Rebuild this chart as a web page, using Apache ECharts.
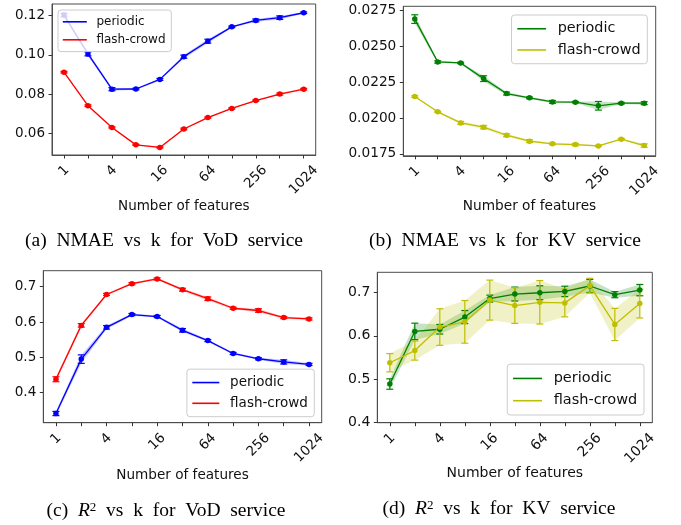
<!DOCTYPE html>
<html><head><meta charset="utf-8">
<script src="https://cdn.jsdelivr.net/npm/echarts@6/dist/echarts.min.js"></script>
<style>html,body{margin:0;padding:0;background:#fff}#c{width:681px;height:525px}</style>
</head><body><div id="c"></div>
<script>
// ---------------- data ----------------
const features = [1, 2, 4, 8, 16, 32, 64, 128, 256, 512, 1024];
const xTickLabels = [1, 4, 16, 64, 256, 1024];
const seriesNames = ['periodic', 'flash-crowd'];

// (a) NMAE vs k for VoD service
const vodNmaePeriodic    = [0.1203, 0.1005, 0.0825, 0.0826, 0.0875, 0.0991, 0.1070, 0.1143, 0.1176, 0.1190, 0.1215];
const vodNmaePeriodicErr = [0.0009, 0.0010, 0.0008, 0.0004, 0.0005, 0.0008, 0.0010, 0.0004, 0.0007, 0.0009, 0.0004];
const vodNmaeFlash       = [0.0912, 0.0741, 0.0630, 0.0541, 0.0528, 0.0622, 0.0680, 0.0727, 0.0767, 0.0800, 0.0825];
const vodNmaeFlashErr    = [0.0004, 0.0004, 0.0003, 0.0003, 0.0003, 0.0004, 0.0003, 0.0003, 0.0003, 0.0005, 0.0004];
const vodNmaeTicks       = [0.06, 0.08, 0.10, 0.12];

// (b) NMAE vs k for KV service
const kvNmaePeriodic    = [0.02688, 0.02390, 0.02383, 0.02274, 0.02170, 0.02140, 0.02112, 0.02110, 0.02085, 0.02103, 0.02103];
const kvNmaePeriodicErr = [0.00030, 0.00008, 0.00005, 0.00020, 0.00010, 0.00006, 0.00010, 0.00005, 0.00030, 0.00006, 0.00010];
const kvNmaeFlash       = [0.02149, 0.02043, 0.01966, 0.01936, 0.01880, 0.01839, 0.01820, 0.01815, 0.01806, 0.01853, 0.01808];
const kvNmaeFlashErr    = [0.00006, 0.00004, 0.00010, 0.00012, 0.00010, 0.00010, 0.00006, 0.00008, 0.00004, 0.00005, 0.00012];
const kvNmaeTicks       = [0.0175, 0.0200, 0.0225, 0.0250, 0.0275];

// (c) R^2 vs k for VoD service
const vodR2Periodic    = [0.341, 0.495, 0.585, 0.621, 0.6155, 0.5765, 0.5475, 0.511, 0.496, 0.487, 0.480];
const vodR2PeriodicErr = [0.006, 0.012, 0.005, 0.003, 0.003, 0.005, 0.003, 0.003, 0.003, 0.006, 0.003];
const vodR2Flash       = [0.438, 0.5905, 0.678, 0.7085, 0.722, 0.6915, 0.666, 0.639, 0.6326, 0.6126, 0.6088];
const vodR2FlashErr    = [0.007, 0.005, 0.003, 0.003, 0.003, 0.004, 0.005, 0.003, 0.005, 0.003, 0.003];
const vodR2Ticks       = [0.4, 0.5, 0.6, 0.7];

// (d) R^2 vs k for KV service
const kvR2Periodic    = [0.489, 0.610, 0.615, 0.643, 0.6855, 0.696, 0.699, 0.702, 0.7145, 0.6945, 0.705];
const kvR2PeriodicErr = [0.012, 0.019, 0.011, 0.015, 0.008, 0.016, 0.016, 0.012, 0.015, 0.007, 0.013];
const kvR2Flash       = [0.538, 0.566, 0.620, 0.632, 0.682, 0.6695, 0.677, 0.6756, 0.7153, 0.626, 0.674];
const kvR2FlashErr    = [0.021, 0.022, 0.042, 0.049, 0.046, 0.041, 0.050, 0.032, 0.017, 0.037, 0.033];
const kvR2Ticks       = [0.4, 0.5, 0.6, 0.7];

const captions = [
  '(a)  NMAE  vs  k  for  VoD  service',
  '(b)  NMAE  vs  k  for  KV  service',
  '(c)  {i|R}{s|2}  vs  k  for  VoD  service',
  '(d)  {i|R}{s|2}  vs  k  for  KV  service'
];
const xAxisTitle = 'Number of features';

// ---------------- layout / style ----------------
const BLUE = '#0000ff', RED = '#ff0000', GREEN = '#008000', YELLOW = '#bfbf00';
const FONT = '"DejaVu Sans", sans-serif';
const SERIF = '"Liberation Serif", "Times New Roman", serif';

const panels = [
  { grid: {left: 52, top: 4, width: 263.7, height: 151}, yMin: 0.04893, yMax: 0.12597, yTicks: vodNmaeTicks, dec: 2, fs: 13.5,
    lines: [[vodNmaePeriodic, vodNmaePeriodicErr, BLUE], [vodNmaeFlash, vodNmaeFlashErr, RED]],
    legend: {left: 58, top: 10}, lfs: 12, nameCenter: 206.7, caption: [164, 241] },
  { grid: {left: 403.3, top: 6.3, width: 252.4, height: 149.5}, yMin: 0.01737, yMax: 0.02777, yTicks: kvNmaeTicks, dec: 4, fs: 13.7,
    lines: [[kvNmaePeriodic, kvNmaePeriodicErr, GREEN], [kvNmaeFlash, kvNmaeFlashErr, YELLOW]],
    legend: {right: 33.7, top: 15}, lfs: 14.4, nameCenter: 206.7, caption: [505, 241] },
  { grid: {left: 43.3, top: 270.7, width: 278.4, height: 152}, yMin: 0.315, yMax: 0.7453, yTicks: vodR2Ticks, dec: 1, fs: 13.6,
    lines: [[vodR2Periodic, vodR2PeriodicErr, BLUE], [vodR2Flash, vodR2FlashErr, RED]],
    legend: {right: 366.7, bottom: 108.3}, lfs: 13.5, nameCenter: 475, caption: [166, 511] },
  { grid: {left: 377.3, top: 272.3, width: 275, height: 150.4}, yMin: 0.4, yMax: 0.746, yTicks: kvR2Ticks, dec: 1, fs: 14,
    lines: [[kvR2Periodic, kvR2PeriodicErr, GREEN], [kvR2Flash, kvR2FlashErr, YELLOW]],
    legend: {right: 37, bottom: 110}, lfs: 14.5, nameCenter: 473.3, caption: [499, 509] }
];

const xs = features.map(v => Math.log2(v));
const xTickPos = xTickLabels.map(v => Math.log2(v));

const grids = [], xAxes = [], yAxes = [], series = [], legends = [], graphics = [];

panels.forEach((p, gi) => {
  grids.push(Object.assign({show: true, borderColor: '#4d4d4d', borderWidth: 1, backgroundColor: 'transparent',
                            containLabel: false, outerBoundsMode: 'none'}, p.grid));
  const fs = p.fs;
  const rich = {};
  for (let d = 1; d <= 4; d++) {
    const P = 0.318 * fs * (d - 1);
    rich['d' + d] = {fontSize: fs, fontFamily: FONT, color: '#111', padding: [P, P, 0, 0]};
  }
  const axisBottom = p.grid.top + p.grid.height;
  xAxes.push({
    type: 'value', gridIndex: gi, min: -0.5, max: 10.5, position: 'bottom',
    name: xAxisTitle, nameLocation: 'middle', nameGap: p.nameCenter - axisBottom - fs / 2,
    nameMoveOverlap: false,
    nameTextStyle: {fontSize: fs, fontFamily: FONT, color: '#111'},
    axisLine: {show: true, onZero: false, lineStyle: {color: '#4d4d4d', width: 1}},
    splitLine: {show: false},
    axisTick: {show: true, inside: false, length: 3.5, lineStyle: {color: '#333', width: 1}, customValues: xs},
    axisLabel: {
      customValues: xTickPos, rotate: 45, align: 'center', verticalAlign: 'middle',
      margin: 7.5 + 0.636 * fs,
      formatter: v => { const s = String(Math.round(Math.pow(2, v))); return '{d' + s.length + '|' + s + '}'; },
      rich: rich
    }
  });
  yAxes.push({
    type: 'value', gridIndex: gi, min: p.yMin, max: p.yMax, position: 'left',
    axisLine: {show: true, onZero: false, lineStyle: {color: '#4d4d4d', width: 1}}, splitLine: {show: false},
    axisTick: {show: true, inside: false, length: 3.5, lineStyle: {color: '#333', width: 1}, customValues: p.yTicks},
    axisLabel: {customValues: p.yTicks, margin: 7, fontSize: fs, fontFamily: FONT, color: '#111',
                formatter: v => v.toFixed(p.dec)}
  });

  p.lines.forEach((ln, li) => {
    const vals = ln[0], errs = ln[1], color = ln[2];
    const rows = xs.map((x, i) => [x, vals[i] - errs[i], vals[i] + errs[i]]);
    // shaded band
    series.push({
      type: 'custom', xAxisIndex: gi, yAxisIndex: gi, data: rows, z: 1, silent: true, clip: false,
      encode: {x: 0, y: [1, 2]},
      renderItem: (params, api) => {
        if (params.dataIndex !== 0) return null;
        const up = [], lo = [];
        for (let i = 0; i < rows.length; i++) {
          up.push(api.coord([rows[i][0], rows[i][2]]));
          lo.push(api.coord([rows[i][0], rows[i][1]]));
        }
        return {type: 'polygon', shape: {points: up.concat(lo.reverse())},
                style: {fill: color, opacity: 0.22}};
      }
    });
    // error bars
    series.push({
      type: 'custom', xAxisIndex: gi, yAxisIndex: gi, data: rows, z: 3, silent: true, clip: false,
      encode: {x: 0, y: [1, 2]},
      renderItem: (params, api) => {
        const x = api.value(0), a = api.coord([x, api.value(1)]), b = api.coord([x, api.value(2)]);
        const c = 3.5, st = {stroke: color, lineWidth: 1.2};
        return {type: 'group', children: [
          {type: 'line', shape: {x1: a[0], y1: a[1], x2: b[0], y2: b[1]}, style: st},
          {type: 'line', shape: {x1: a[0] - c, y1: a[1], x2: a[0] + c, y2: a[1]}, style: st},
          {type: 'line', shape: {x1: b[0] - c, y1: b[1], x2: b[0] + c, y2: b[1]}, style: st}
        ]};
      }
    });
    // main line with markers
    series.push({
      type: 'line', name: seriesNames[li], xAxisIndex: gi, yAxisIndex: gi,
      data: xs.map((x, i) => [x, vals[i]]),
      symbol: 'circle', symbolSize: 5.5, showSymbol: true,
      lineStyle: {width: 1.3, color: color}, itemStyle: {color: color}, z: 4, silent: true
    });
  });

  const lfs = p.lfs, pad = 0.4 * lfs;
  legends.push(Object.assign({
    orient: 'vertical', icon: 'rect', itemWidth: 2 * lfs, itemHeight: 1.6, itemGap: 0.5 * lfs,
    padding: [pad + 1, pad + 1, pad + 1, pad], borderColor: '#cccccc', borderWidth: 1, borderRadius: 3,
    backgroundColor: 'rgba(255,255,255,0.8)', selectedMode: false, z: 10,
    textStyle: {fontSize: lfs, fontFamily: FONT, color: '#111', padding: [0, 0, 0, 0.8 * lfs - 5]},
    data: seriesNames.map((n, li) => ({name: n, itemStyle: {color: p.lines[li][2], borderWidth: 0}}))
  }, p.legend));

  graphics.push({
    type: 'text', x: p.caption[0], y: p.caption[1], silent: true,
    style: {text: captions[gi], fontSize: 19.5, fontFamily: SERIF, fill: '#000', align: 'center', verticalAlign: 'middle',
            rich: {i: {fontStyle: 'italic', fontSize: 19.5, fontFamily: SERIF}, s: {fontSize: 13, fontFamily: SERIF, verticalAlign: 'top'}}}
  });
});

const chart = echarts.init(document.getElementById('c'), null, {renderer: 'canvas'});
chart.setOption({
  animation: false,
  backgroundColor: '#fff',
  grid: grids, xAxis: xAxes, yAxis: yAxes, series: series, legend: legends,
  graphic: graphics
});
</script></body></html>
